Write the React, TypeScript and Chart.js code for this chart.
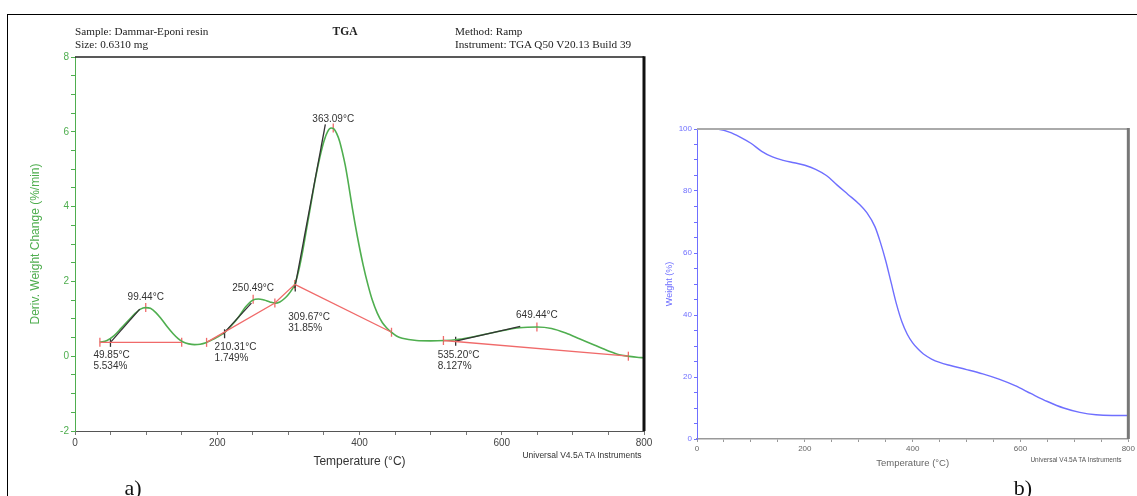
import React, { useEffect, useRef } from "react";
import { Chart, registerables } from "chart.js";

Chart.register(...registerables);

// ---------- DATA: panel a) derivative weight (DTG) ----------
const dtgTemps = [
  35, 45, 55, 65, 75, 85, 92, 99, 106, 114, 122, 130, 138, 145, 152, 160, 168, 176, 184, 192,
  200, 210, 220, 230, 240, 250, 258, 266, 274, 281, 288, 295, 300, 305, 309, 314, 320, 326,
  332, 338, 344, 350, 355, 360, 364, 368, 372, 376, 380, 385, 390, 397, 405, 412, 418, 425,
  432, 438, 445, 452, 460, 480, 500, 520, 535, 555, 575, 600, 625, 650, 670, 690, 710, 730,
  750, 765, 778, 790, 800,
];
const dtgValues = [
  0.37, 0.42, 0.55, 0.75, 0.95, 1.15, 1.26, 1.3, 1.28, 1.16, 0.98, 0.78, 0.6, 0.47, 0.38, 0.33,
  0.31, 0.32, 0.36, 0.43, 0.51, 0.63, 0.82, 1.05, 1.32, 1.5, 1.53, 1.5, 1.45, 1.42, 1.45, 1.55,
  1.65, 1.78, 1.92, 2.25, 2.8, 3.45, 4.1, 4.75, 5.3, 5.75, 6.0, 6.1, 6.08, 5.95, 5.75, 5.45,
  5.1, 4.55, 3.95, 3.2, 2.45, 1.9, 1.5, 1.15, 0.9, 0.76, 0.64, 0.54, 0.48, 0.42, 0.41, 0.42,
  0.44, 0.5, 0.58, 0.68, 0.76, 0.78, 0.74, 0.62, 0.46, 0.3, 0.14, 0.04, 0.0, -0.03, -0.04,
];

// red integration baselines (segments)
const baselineTemps = [
  [35, 150],
  [185, 281, 309],
  [309, 445],
  [518, 778],
];
const baselineValues = [
  [0.37, 0.37],
  [0.37, 1.42, 1.92],
  [1.92, 0.64],
  [0.42, 0.0],
];

// red limit / peak markers
const markerTemps = [35, 150, 99.44, 185, 250.49, 281, 309, 363.09, 445, 518, 649.44, 778];
const markerValues = [0.37, 0.37, 1.3, 0.37, 1.52, 1.42, 1.92, 6.1, 0.64, 0.42, 0.78, 0.0];

// black onset tangents
const tangentTemps = [
  [49.85, 91],
  [208, 248],
  [309, 352],
  [535.2, 626],
];
const tangentValues = [
  [0.37, 1.26],
  [0.59, 1.42],
  [1.82, 6.2],
  [0.4, 0.8],
];
const onsetTemps = [49.85, 210.31, 309.67, 535.2];
const onsetValues = [0.37, 0.6, 1.85, 0.4];

// annotation texts
const peakLabels = ["99.44°C", "250.49°C", "363.09°C", "649.44°C"];
const peakTemps = [99.44, 250.49, 363.09, 649.44];
const peakValues = [1.3, 1.52, 6.1, 0.78];
const onsetLabels = [
  ["49.85°C", "5.534%"],
  ["210.31°C", "1.749%"],
  ["309.67°C", "31.85%"],
  ["535.20°C", "8.127%"],
];

// ---------- DATA: panel b) weight (TGA) ----------
const tgaTemps = [
  0, 30, 40, 60, 80, 100, 120, 140, 160, 180, 200, 220, 240, 260, 280, 300, 315, 330, 340, 350,
  360, 370, 380, 390, 400, 410, 420, 435, 450, 470, 500, 530, 560, 590, 620, 650, 680, 710, 740,
  770, 800,
];
const tgaValues = [
  100, 100, 99.9, 99.0, 97.4, 95.4, 92.8, 91.0, 89.9, 89.1, 88.3, 87.0, 85.0, 81.9, 78.9, 75.9,
  73.0, 68.5, 63.5, 57.5, 50.5, 43.5, 37.8, 33.8, 31.0, 29.0, 27.4, 25.8, 24.7, 23.7, 22.4, 21.0,
  19.3, 17.2, 14.6, 12.1, 10.0, 8.6, 7.8, 7.6, 7.6,
];

// ---------- styles ----------
const SANS = "'Liberation Sans', Arial, sans-serif";
const SERIF = "'Liberation Serif', 'Times New Roman', serif";
const GREEN = "#4fae4f";
const RED = "#f06a6a";
const DARK = "#333333";
const BLUE = "#6f6fff";

const pts = (xs: number[], ys: number[]) => xs.map((x, i) => ({ x, y: ys[i] }));

function framePlugin(topColor: string, topWidth: number, rightColor: string, rightWidth: number) {
  return {
    id: "frame",
    afterDraw(chart: any) {
      const { ctx, chartArea: a } = chart;
      ctx.save();
      ctx.strokeStyle = topColor;
      ctx.lineWidth = topWidth;
      ctx.beginPath();
      ctx.moveTo(a.left, a.top);
      ctx.lineTo(a.right, a.top);
      ctx.stroke();
      ctx.strokeStyle = rightColor;
      ctx.lineWidth = rightWidth;
      ctx.beginPath();
      ctx.moveTo(a.right, a.top - topWidth / 2);
      ctx.lineTo(a.right, a.bottom);
      ctx.stroke();
      ctx.restore();
    },
  };
}

const labelPlugin = {
  id: "dtgLabels",
  afterDatasetsDraw(chart: any) {
    const { ctx, scales } = chart;
    const sx = scales.x;
    const sy = scales.y;
    ctx.save();
    ctx.fillStyle = DARK;
    ctx.font = `10px ${SANS}`;
    ctx.textBaseline = "middle";
    ctx.textAlign = "center";
    const peakDy = [-10, -11, -9, -12];
    peakLabels.forEach((t, i) => {
      const px = sx.getPixelForValue(peakTemps[i]);
      const py = sy.getPixelForValue(peakValues[i]);
      ctx.fillText(t, px, py + peakDy[i]);
    });
    ctx.textAlign = "left";
    const onsetDx = [-17, -10, -7, -18];
    const onsetDy = [13, 13, 30, 14];
    onsetLabels.forEach((lines, i) => {
      const px = sx.getPixelForValue(onsetTemps[i]);
      const py = sy.getPixelForValue(onsetValues[i]);
      lines.forEach((l, j) => ctx.fillText(l, px + onsetDx[i], py + onsetDy[i] + j * 11));
    });
    ctx.restore();
  },
};

export default function App() {
  const leftRef = useRef<HTMLCanvasElement | null>(null);
  const rightRef = useRef<HTMLCanvasElement | null>(null);

  useEffect(() => {
    const lineDs = (data: any[], color: string, width: number, extra: any = {}) => ({
      data,
      showLine: true,
      borderColor: color,
      backgroundColor: color,
      borderWidth: width,
      pointRadius: 0,
      fill: false,
      ...extra,
    });

    const leftDatasets: any[] = [];
    baselineTemps.forEach((t, i) => leftDatasets.push(lineDs(pts(t, baselineValues[i]), RED, 1.3)));
    tangentTemps.forEach((t, i) => leftDatasets.push(lineDs(pts(t, tangentValues[i]), DARK, 1.3)));
    leftDatasets.push(
      lineDs(pts(dtgTemps, dtgValues), GREEN, 1.6, { cubicInterpolationMode: "monotone" })
    );
    leftDatasets.push({
      data: pts(markerTemps, markerValues),
      showLine: false,
      pointStyle: "line",
      rotation: 90,
      pointRadius: 4.5,
      borderColor: RED,
      borderWidth: 1.3,
    });
    leftDatasets.push({
      data: pts(onsetTemps, onsetValues),
      showLine: false,
      pointStyle: "line",
      rotation: 90,
      pointRadius: 4.5,
      borderColor: DARK,
      borderWidth: 1.3,
    });

    const left = new Chart(leftRef.current as HTMLCanvasElement, {
      type: "scatter",
      data: { datasets: leftDatasets },
      options: {
        responsive: false,
        animation: false,
        events: [],
        layout: { padding: { top: 57, right: 16, left: 0, bottom: 0 } },
        plugins: { legend: { display: false }, tooltip: { enabled: false } },
        scales: {
          x: {
            type: "linear",
            min: 0,
            max: 800,
            afterFit: (s: any) => {
              s.height = 44;
            },
            ticks: {
              stepSize: 50,
              autoSkip: false,
              maxRotation: 0,
              color: "#444",
              padding: 2,
              font: { size: 10, family: SANS },
              callback: (v: any) => (Number(v) % 200 === 0 ? String(v) : ""),
            },
            grid: { drawOnChartArea: false, tickLength: 4, color: "#777" },
            border: { color: "#555", width: 1 },
            title: {
              display: true,
              text: "Temperature (°C)",
              color: DARK,
              font: { size: 12, family: SANS },
              padding: { top: 0, bottom: 6 },
            },
          },
          y: {
            min: -2,
            max: 8,
            afterFit: (s: any) => {
              s.width = 75;
            },
            ticks: {
              stepSize: 0.5,
              autoSkip: false,
              color: GREEN,
              padding: 2,
              font: { size: 10, family: SANS },
              callback: (v: any) => (Number(v) % 2 === 0 ? String(v) : ""),
            },
            grid: { drawOnChartArea: false, tickLength: 4, color: GREEN },
            border: { color: GREEN, width: 1 },
            title: {
              display: true,
              text: "Deriv. Weight Change (%/min)",
              color: GREEN,
              font: { size: 12, family: SANS },
              padding: { top: 28, bottom: 0 },
            },
          },
        },
      } as any,
      plugins: [framePlugin("#222", 1.5, "#111", 3), labelPlugin],
    });

    const right = new Chart(rightRef.current as HTMLCanvasElement, {
      type: "scatter",
      data: {
        datasets: [
          lineDs(pts(tgaTemps, tgaValues), BLUE, 1.4, { cubicInterpolationMode: "monotone" }),
        ],
      },
      options: {
        responsive: false,
        animation: false,
        events: [],
        layout: { padding: { top: 29, right: 8, left: 0, bottom: 0 } },
        plugins: { legend: { display: false }, tooltip: { enabled: false } },
        scales: {
          x: {
            type: "linear",
            min: 0,
            max: 800,
            afterFit: (s: any) => {
              s.height = 36;
            },
            ticks: {
              stepSize: 50,
              autoSkip: false,
              maxRotation: 0,
              color: "#666",
              padding: 2,
              font: { size: 8, family: SANS },
              callback: (v: any) => (Number(v) % 200 === 0 ? String(v) : ""),
            },
            grid: { drawOnChartArea: false, tickLength: 3, color: "#999" },
            border: { color: "#999", width: 1.5 },
            title: {
              display: true,
              text: "Temperature (°C)",
              color: "#666",
              font: { size: 9.5, family: SANS },
              padding: { top: 0, bottom: 6 },
            },
          },
          y: {
            min: 0,
            max: 100,
            afterFit: (s: any) => {
              s.width = 47;
            },
            ticks: {
              stepSize: 5,
              autoSkip: false,
              color: BLUE,
              padding: 2,
              font: { size: 8, family: SANS },
              callback: (v: any) => (Number(v) % 20 === 0 ? String(v) : ""),
            },
            grid: { drawOnChartArea: false, tickLength: 3, color: BLUE },
            border: { color: BLUE, width: 1 },
            title: {
              display: true,
              text: "Weight (%)",
              color: BLUE,
              font: { size: 9, family: SANS },
              padding: { top: 14, bottom: 0 },
            },
          },
        },
      } as any,
      plugins: [framePlugin("#aaa", 2, "#777", 3)],
    });

    return () => {
      left.destroy();
      right.destroy();
    };
  }, []);

  const abs = (s: React.CSSProperties): React.CSSProperties => ({
    position: "absolute",
    whiteSpace: "nowrap",
    margin: 0,
    ...s,
  });

  const headFont = `11.2px ${SERIF}`;

  return (
    <div
      style={{
        position: "absolute",
        left: 0,
        top: 0,
        width: 1137,
        height: 496,
        overflow: "hidden",
        background: "#fff",
      }}
    >
      <div
        style={abs({ left: 7, top: 14, width: 1150, height: 500, border: "1px solid #000" })}
      />
      <canvas
        ref={leftRef}
        width={660}
        height={475}
        style={{ position: "absolute", left: 0, top: 0, width: 660, height: 475 }}
      />
      <canvas
        ref={rightRef}
        width={487}
        height={375}
        style={{ position: "absolute", left: 650, top: 100, width: 487, height: 375 }}
      />
      <div style={abs({ left: 75, top: 25, font: headFont, lineHeight: "13px", color: "#222" })}>
        Sample: Dammar-Eponi resin
      </div>
      <div style={abs({ left: 75, top: 38, font: headFont, lineHeight: "13px", color: "#222" })}>
        Size: 0.6310 mg
      </div>
      <div
        style={abs({
          left: 345,
          top: 25,
          transform: "translateX(-50%)",
          font: `bold 11.5px ${SERIF}`,
          lineHeight: "13px",
          color: "#222",
        })}
      >
        TGA
      </div>
      <div style={abs({ left: 455, top: 25, font: headFont, lineHeight: "13px", color: "#222" })}>
        Method: Ramp
      </div>
      <div style={abs({ left: 455, top: 38, font: headFont, lineHeight: "13px", color: "#222" })}>
        Instrument: TGA Q50 V20.13 Build 39
      </div>
      <div
        style={abs({
          left: 582,
          top: 450,
          transform: "translateX(-50%)",
          font: `8.5px ${SANS}`,
          lineHeight: "11px",
          color: "#333",
        })}
      >
        Universal V4.5A TA Instruments
      </div>
      <div
        style={abs({
          left: 1076,
          top: 455,
          transform: "translateX(-50%)",
          font: `6.5px ${SANS}`,
          lineHeight: "9px",
          color: "#555",
        })}
      >
        Universal V4.5A TA Instruments
      </div>
      <div
        style={abs({
          left: 133,
          top: 474,
          transform: "translateX(-50%)",
          font: `22px ${SERIF}`,
          lineHeight: "28px",
          color: "#111",
        })}
      >
        a)
      </div>
      <div
        style={abs({
          left: 1023,
          top: 474,
          transform: "translateX(-50%)",
          font: `22px ${SERIF}`,
          lineHeight: "28px",
          color: "#111",
        })}
      >
        b)
      </div>
    </div>
  );
}
